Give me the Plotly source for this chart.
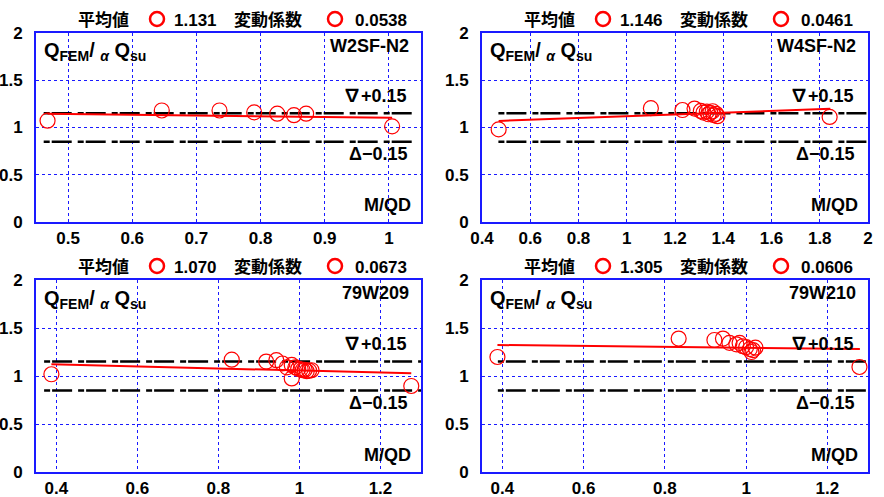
import plotly.graph_objects as go

W, H = 884, 497

# ---------------- data ----------------
names = ["W2SF-N2", "W4SF-N2", "79W209", "79W210"]
means = ["1.131", "1.146", "1.070", "1.305"]
covs = ["0.0538", "0.0461", "0.0673", "0.0606"]

x_w2sf = [0.468, 0.646, 0.736, 0.790, 0.826, 0.852, 0.871, 1.005]
y_w2sf = [1.072, 1.18, 1.18, 1.16, 1.146, 1.13, 1.146, 1.012]

x_w4sf = [0.469, 1.100, 1.231, 1.281, 1.307, 1.318, 1.332, 1.339, 1.346, 1.356, 1.360, 1.370, 1.376, 1.841]
y_w4sf = [0.98, 1.205, 1.185, 1.20, 1.175, 1.158, 1.168, 1.14, 1.155, 1.172, 1.132, 1.145, 1.12, 1.112]

x_209 = [0.388, 0.833, 0.918, 0.943, 0.958, 0.969, 0.981, 0.981, 0.990, 0.997, 1.003, 1.008, 1.013, 1.018, 1.024, 1.030, 1.276]
y_209 = [1.018, 1.17, 1.15, 1.165, 1.13, 1.09, 1.115, 0.975, 1.09, 1.075, 1.07, 1.06, 1.065, 1.05, 1.055, 1.06, 0.896]

x_210 = [0.388, 0.834, 0.922, 0.943, 0.959, 0.976, 0.984, 0.992, 1.000, 1.009, 1.013, 1.017, 1.023, 1.279]
y_210 = [1.198, 1.39, 1.375, 1.39, 1.345, 1.33, 1.345, 1.31, 1.30, 1.28, 1.25, 1.27, 1.295, 1.094]

# regression (trend) line end points
trend_x = [[0.468, 1.005], [0.469, 1.844], [0.388, 1.276], [0.388, 1.280]]
trend_y = [[1.146, 1.103], [1.070, 1.198], [1.122, 1.028], [1.323, 1.280]]

# +/-0.15 band lines
band_upper = 1.15
band_lower = 0.85
band_x = [[0.462, 1.037], [0.468, 2.0], [0.37, 1.30], [0.389, 1.30]]

x_ranges = [[0.45, 1.05], [0.4, 2.0], [0.35, 1.30], [0.35, 1.30]]
x_ticks = [
    [0.5, 0.6, 0.7, 0.8, 0.9, 1.0],
    [0.4, 0.6, 0.8, 1.0, 1.2, 1.4, 1.6, 1.8, 2.0],
    [0.4, 0.6, 0.8, 1.0, 1.2],
    [0.4, 0.6, 0.8, 1.0, 1.2],
]
x_ticktext = [
    ["0.5", "0.6", "0.7", "0.8", "0.9", "1"],
    ["0.4", "0.6", "0.8", "1", "1.2", "1.4", "1.6", "1.8", "2"],
    ["0.4", "0.6", "0.8", "1", "1.2"],
    ["0.4", "0.6", "0.8", "1", "1.2"],
]
y_ticks = [0, 0.5, 1, 1.5, 2]
y_ticktext = ["0", "0.5", "1", "1.5", "2"]

xs = [x_w2sf, x_w4sf, x_209, x_210]
ys = [y_w2sf, y_w4sf, y_209, y_210]

# ---------------- layout geometry (pixels) ----------------
# plot-area boxes: left, right, top, bottom
boxes = [
    (36, 421, 33, 222),
    (482, 868, 33, 222),
    (36, 421, 280, 472),
    (482, 868, 280, 472),
]

FONT = "Liberation Sans, Arial, Noto Sans CJK JP, sans-serif"
BLUE = "#1a1aff"

fig = go.Figure()
layout = dict(
    width=W, height=H,
    margin=dict(l=0, r=0, t=0, b=0, pad=0),
    paper_bgcolor="white", plot_bgcolor="white",
    showlegend=False,
    font=dict(family=FONT, color="black"),
)
annotations = []
shapes = []

for i in range(4):
    ax = "" if i == 0 else str(i + 1)
    xa, ya = "x" + ax, "y" + ax
    l, r, t, b = boxes[i]
    layout["xaxis" + ax] = dict(
        domain=[l / W, r / W], range=x_ranges[i], anchor=ya,
        tickvals=x_ticks[i], ticktext=x_ticktext[i], automargin=False,
        showgrid=True, gridcolor=BLUE, griddash="dot", gridwidth=1,
        showline=True, linecolor=BLUE, linewidth=2, mirror=True,
        zeroline=False, ticks="", ticklen=0, ticklabelstandoff=0,
        tickfont=dict(family=FONT, size=17, color="black", weight="bold"),
    )
    layout["yaxis" + ax] = dict(
        domain=[1 - b / H, 1 - t / H], range=[0, 2], anchor=xa,
        tickvals=y_ticks, ticktext=y_ticktext, automargin=False,
        showgrid=True, gridcolor=BLUE, griddash="dot", gridwidth=1,
        showline=True, linecolor=BLUE, linewidth=2, mirror=True,
        zeroline=False, ticks="", ticklen=0, ticklabelstandoff=8,
        tickfont=dict(family=FONT, size=17, color="black", weight="bold"),
    )

    for yv in (band_upper, band_lower):
        fig.add_trace(go.Scatter(
            x=band_x[i], y=[yv, yv], mode="lines", xaxis=xa, yaxis=ya,
            line=dict(color="black", width=2.5, dash="6px,2px,20px,6px"),
            hoverinfo="skip"))
    fig.add_trace(go.Scatter(
        x=trend_x[i], y=trend_y[i], mode="lines", xaxis=xa, yaxis=ya,
        line=dict(color="#ff0000", width=2), hoverinfo="skip"))
    fig.add_trace(go.Scatter(
        x=xs[i], y=ys[i], mode="markers", xaxis=xa, yaxis=ya,
        marker=dict(symbol="circle-open", size=15, color="#ff0000",
                    line=dict(width=1.2, color="#ff0000"))))

    xd, yd = xa + " domain", ya + " domain"
    # y-axis label
    annotations.append(dict(
        xref=xd, yref=ya, x=0.016, y=1.80, xanchor="left", yanchor="middle",
        text="Q<sub>FEM</sub>/ <sub><i>α</i></sub> Q<sub>su</sub>", showarrow=False,
        font=dict(family=FONT, size=20, color="black", weight="bold")))
    # specimen name
    annotations.append(dict(
        xref=xd, yref=ya, x=0.975, y=1.86, xanchor="right", yanchor="middle",
        text=names[i], showarrow=False,
        font=dict(family=FONT, size=18, color="black", weight="bold")))
    # x-axis label
    annotations.append(dict(
        xref=xd, yref=ya, x=0.98, y=0.18, xanchor="right", yanchor="middle",
        text="M/QD", showarrow=False,
        font=dict(family=FONT, size=18, color="black", weight="bold")))
    # band labels
    annotations.append(dict(
        xref=xd, yref=ya, x=0.97, y=1.33, xanchor="right", yanchor="middle",
        text="∇+0.15", showarrow=False,
        font=dict(family=FONT, size=18, color="black", weight="bold")))
    annotations.append(dict(
        xref=xd, yref=ya, x=0.97, y=0.72, xanchor="right", yanchor="middle",
        text="Δ−0.15", showarrow=False,
        font=dict(family=FONT, size=18, color="black", weight="bold")))

    # header: 平均値 ○ mean  変動係数 ○ cov
    hy = 1 - (t - 13) / H
    offs = [67, 121, 159, 232, 299, 345]
    texts = ["平均値", None, means[i], "変動係数", None, covs[i]]
    for off, tx in zip(offs, texts):
        cx = l + off
        if tx is None:
            cy = t - 14
            shapes.append(dict(
                type="circle", xref="paper", yref="paper",
                x0=(cx - 7) / W, x1=(cx + 7) / W,
                y0=1 - (cy + 7) / H, y1=1 - (cy - 7) / H,
                line=dict(color="#ff0000", width=2.5)))
        else:
            annotations.append(dict(
                xref="paper", yref="paper", x=cx / W, y=hy,
                xanchor="center", yanchor="middle", text=tx, showarrow=False,
                font=dict(family=FONT, size=17, color="black", weight="bold")))

layout["annotations"] = annotations
layout["shapes"] = shapes
fig.update_layout(**layout)
fig.write_html("out.html", config={"displayModeBar": False},
               post_script="document.body.style.margin='0';document.body.style.padding='0';")
